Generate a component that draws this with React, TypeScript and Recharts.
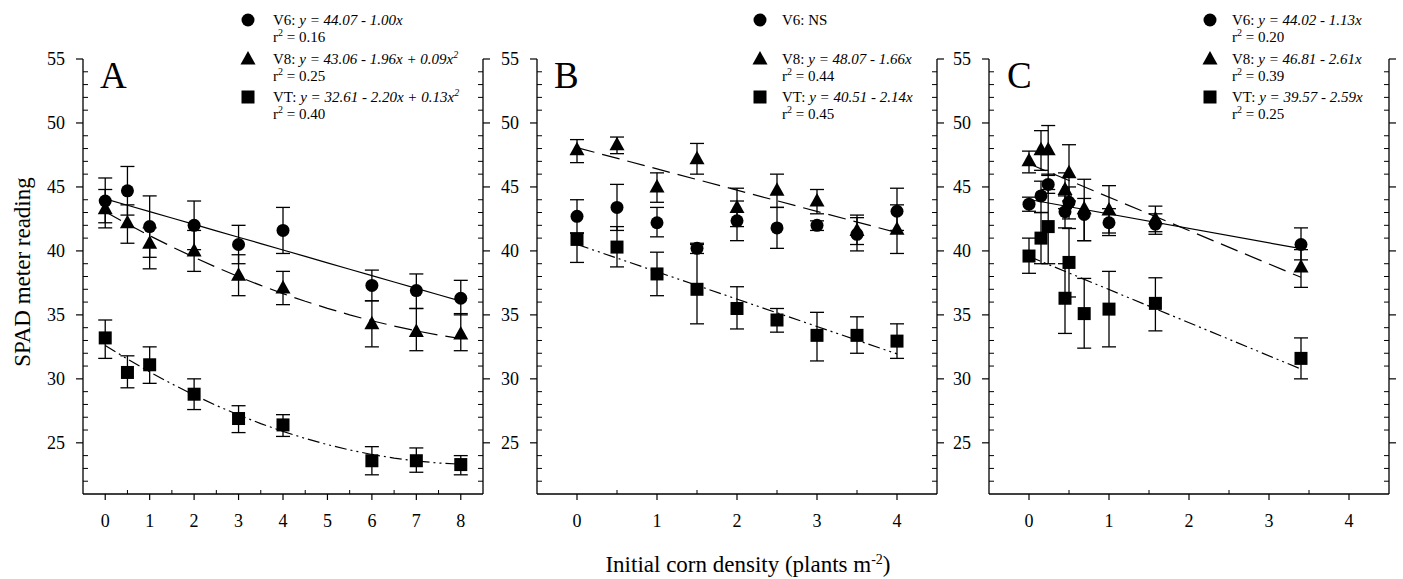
import React from 'react';
import { ComposedChart, Scatter, XAxis, YAxis, ErrorBar } from 'recharts';

const FONT = '"Liberation Serif", "Times New Roman", Times, serif';

// ---------------- Panel A ----------------
const densityA = [0, 0.5, 1, 2, 3, 4, 6, 7, 8];
const v6A = [43.9, 44.7, 41.9, 42.0, 40.5, 41.6, 37.3, 36.9, 36.3];
const v6ALow = [42.2, 42.8, 39.5, 40.1, 39.0, 39.8, 36.1, 35.5, 35.0];
const v6AHigh = [45.7, 46.6, 44.3, 43.9, 42.0, 43.4, 38.5, 38.2, 37.7];
const v8A = [43.3, 42.2, 40.6, 40.0, 38.1, 37.1, 34.3, 33.7, 33.5];
const v8ALow = [41.8, 40.6, 38.6, 38.4, 36.5, 35.8, 32.5, 32.2, 32.2];
const v8AHigh = [44.8, 43.6, 41.8, 41.6, 39.7, 38.4, 36.1, 35.5, 35.1];
const vtA = [33.2, 30.5, 31.1, 28.8, 26.9, 26.4, 23.6, 23.6, 23.3];
const vtALow = [31.6, 29.3, 29.65, 27.6, 25.8, 25.5, 22.5, 22.7, 22.5];
const vtAHigh = [34.6, 31.8, 32.5, 30.0, 27.9, 27.2, 24.7, 24.6, 24.0];
// regression coefficients printed in legend: [a, b, c] for y = a + b x + c x^2
const fitA_V6 = [44.07, -1.0, 0];
const fitA_V8 = [43.06, -1.96, 0.09];
const fitA_VT = [32.61, -2.2, 0.13];
const fitXA = [0, 0.5, 1, 1.5, 2, 2.5, 3, 3.5, 4, 4.5, 5, 5.5, 6, 6.5, 7, 7.5, 8];
const xTicksA = [0, 0.5, 1, 1.5, 2, 2.5, 3, 3.5, 4, 4.5, 5, 5.5, 6, 6.5, 7, 7.5, 8];
const xDomainA = [-0.5, 8.5];

// ---------------- Panel B ----------------
const densityB = [0, 0.5, 1, 1.5, 2, 2.5, 3, 3.5, 4];
const v6B = [42.7, 43.4, 42.2, 40.2, 42.35, 41.8, 42.0, 41.3, 43.1];
const v6BLow = [41.4, 41.6, 41.1, 39.8, 40.8, 40.2, 41.6, 40.0, 41.6];
const v6BHigh = [44.0, 45.2, 43.4, 40.6, 43.9, 43.4, 42.35, 42.6, 44.9];
const v8B = [47.9, 48.3, 45.0, 47.2, 43.4, 44.75, 43.9, 41.6, 41.7];
const v8BLow = [46.9, 47.6, 43.8, 46.0, 41.9, 43.4, 42.9, 40.5, 39.8];
const v8BHigh = [48.7, 48.9, 46.1, 48.4, 44.9, 46.0, 44.8, 42.8, 43.6];
const vtB = [40.9, 40.3, 38.2, 37.0, 35.5, 34.6, 33.4, 33.4, 32.95];
const vtBLow = [39.1, 38.75, 36.5, 34.3, 33.9, 33.65, 31.4, 32.0, 31.6];
const vtBHigh = [41.4, 41.9, 39.9, 40.5, 37.2, 35.5, 35.2, 34.85, 34.3];
const fitB_V8 = [48.07, -1.66, 0];
const fitB_VT = [40.51, -2.14, 0];
const fitXB = [0, 4];
const xTicksB = [0, 0.5, 1, 1.5, 2, 2.5, 3, 3.5, 4];
const xDomainB = [-0.5, 4.5];

// ---------------- Panel C ----------------
const densityC = [0, 0.15, 0.24, 0.45, 0.5, 0.69, 1.0, 1.58, 3.4];
const v6C = [43.65, 44.3, 45.2, 43.06, 43.8, 42.85, 42.2, 42.1, 40.5];
const v6CLow = [43.1, 43.0, 44.5, 41.8, 42.5, 40.8, 41.2, 41.3, 39.3];
const v6CHigh = [44.2, 45.45, 46.0, 44.3, 45.0, 44.1, 43.3, 42.9, 41.8];
const v8C = [47.04, 47.9, 47.9, 44.8, 46.1, 43.3, 43.2, 42.5, 38.75];
const v8CLow = [46.1, 46.3, 45.9, 43.3, 43.9, 40.8, 41.4, 41.5, 37.15];
const v8CHigh = [47.8, 49.4, 49.8, 46.1, 48.3, 45.6, 45.1, 43.5, 40.1];
const vtC = [39.6, 41.0, 41.9, 36.3, 39.1, 35.1, 35.45, 35.9, 31.6];
const vtCLow = [38.25, 39.0, 39.0, 33.55, 36.4, 32.4, 32.5, 33.75, 30.0];
const vtCHigh = [41.0, 43.0, 44.8, 39.0, 41.75, 37.85, 38.4, 37.9, 33.2];
const fitC_V6 = [44.02, -1.13, 0];
const fitC_V8 = [46.81, -2.61, 0];
const fitC_VT = [39.57, -2.59, 0];
const fitXC = [0, 3.4];
const xTicksC = [0, 0.5, 1, 1.5, 2, 2.5, 3, 3.5, 4];
const xDomainC = [-0.5, 4.5];

// ---------------- Shared ----------------
const yDomain = [21, 55];
const yTicks = [22, 23, 24, 25, 26, 27, 28, 29, 30, 31, 32, 33, 34, 35, 36, 37, 38, 39, 40, 41, 42, 43, 44, 45, 46, 47, 48, 49, 50, 51, 52, 53, 54, 55];

const legendA = [
  { sym: 'circle', label: 'V6: ', eq: 'y = 44.07 - 1.00x', r2: '0.16' },
  { sym: 'triangle', label: 'V8: ', eq: 'y = 43.06 - 1.96x + 0.09x^2', r2: '0.25' },
  { sym: 'square', label: 'VT: ', eq: 'y = 32.61 - 2.20x + 0.13x^2', r2: '0.40' },
];
const legendB = [
  { sym: 'circle', label: 'V6: NS', eq: '', r2: '' },
  { sym: 'triangle', label: 'V8: ', eq: 'y = 48.07 - 1.66x', r2: '0.44' },
  { sym: 'square', label: 'VT: ', eq: 'y = 40.51 - 2.14x', r2: '0.45' },
];
const legendC = [
  { sym: 'circle', label: 'V6: ', eq: 'y = 44.02 - 1.13x', r2: '0.20' },
  { sym: 'triangle', label: 'V8: ', eq: 'y = 46.81 - 2.61x', r2: '0.39' },
  { sym: 'square', label: 'VT: ', eq: 'y = 39.57 - 2.59x', r2: '0.25' },
];

const PLOT_TOP = 59;
const PLOT_BOTTOM = 494;
const PLOT_W = 400;
const panelLefts = [83, 537, 989];

function build(xs: number[], ys: number[], lo: number[], hi: number[]) {
  return xs.map((x, i) => ({ x, y: ys[i], err: [ys[i] - lo[i], hi[i] - ys[i]] }));
}
function fitLine(xs: number[], c: number[]) {
  return xs.map((x) => ({ x, y: c[0] + c[1] * x + c[2] * x * x }));
}

const Circle = (p: any) => <circle cx={p.cx} cy={p.cy} r={6.5} fill="#000" />;
const Square = (p: any) => <rect x={p.cx - 6.5} y={p.cy - 6.5} width={13} height={13} fill="#000" />;
const Triangle = (p: any) => (
  <polygon points={`${p.cx},${p.cy - 8} ${p.cx - 7.5},${p.cy + 5.5} ${p.cx + 7.5},${p.cy + 5.5}`} fill="#000" />
);
const NoShape = () => <g />;

const shapes: Record<string, any> = { circle: Circle, square: Square, triangle: Triangle };

const tickTextStyle = { fontFamily: FONT, fontSize: 18 };

const XTick = (p: any) => {
  const v = p.payload.value;
  const major = Math.abs(v - Math.round(v)) < 1e-6;
  return (
    <g>
      {major ? (
        <line x1={p.x} x2={p.x} y1={p.y} y2={p.y + 6} stroke="#000" strokeWidth={1.2} />
      ) : (
        <line x1={p.x} x2={p.x} y1={p.y} y2={p.y - 4} stroke="#000" strokeWidth={1} />
      )}
      {major && (
        <text x={p.x} y={p.y + 33} textAnchor="middle" fontSize={18} fontFamily={FONT} style={tickTextStyle} fill="#000">
          {v}
        </text>
      )}
    </g>
  );
};

const YTickLeft = (p: any) => {
  const v = p.payload.value;
  const major = v % 5 === 0;
  return (
    <g>
      {major ? (
        <line x1={p.x - 7} x2={p.x} y1={p.y} y2={p.y} stroke="#000" strokeWidth={1.2} />
      ) : (
        <line x1={p.x} x2={p.x + 5} y1={p.y} y2={p.y} stroke="#000" strokeWidth={1} />
      )}
      {major && (
        <text x={p.x - 18} y={p.y + 6} textAnchor="end" fontSize={18} fontFamily={FONT} style={tickTextStyle} fill="#000">
          {v}
        </text>
      )}
    </g>
  );
};

const YTickRight = (p: any) => {
  const v = p.payload.value;
  const major = v % 5 === 0;
  return major ? (
    <line x1={p.x} x2={p.x + 7} y1={p.y} y2={p.y} stroke="#000" strokeWidth={1.2} />
  ) : (
    <line x1={p.x - 5} x2={p.x} y1={p.y} y2={p.y} stroke="#000" strokeWidth={1} />
  );
};

const DASH_V6 = undefined;
const DASH_V8 = '18 8';
const DASH_VT = '12 4 2 4 2 4';

type SeriesDef = { shape: string; data: any[] };
type FitDef = { dash: string | undefined; data: any[] };

function Panel({ plotLeft, xDomain, xTicks, series, fits }: { plotLeft: number; xDomain: number[]; xTicks: number[]; series: SeriesDef[]; fits: FitDef[] }) {
  const leftW = 60;
  const rightW = 20;
  const axisStyle = { stroke: '#000', strokeWidth: 1.3 };
  return (
    <div style={{ position: 'absolute', left: plotLeft - leftW, top: 0 }}>
      <ComposedChart width={leftW + PLOT_W + rightW} height={579} margin={{ top: PLOT_TOP, right: 0, bottom: 0, left: 0 }}>
        <XAxis
          type="number"
          dataKey="x"
          domain={xDomain}
          ticks={xTicks}
          interval={0}
          tickSize={0}
          tickMargin={0}
          height={579 - PLOT_BOTTOM}
          axisLine={axisStyle}
          tickLine={false}
          tick={XTick}
          allowDataOverflow
        />
        <YAxis
          yAxisId="l"
          type="number"
          dataKey="y"
          domain={yDomain}
          ticks={yTicks}
          interval={0}
          width={leftW}
          tickSize={0}
          tickMargin={0}
          axisLine={axisStyle}
          tickLine={false}
          tick={YTickLeft}
          allowDataOverflow
        />
        <YAxis
          yAxisId="r"
          orientation="right"
          type="number"
          dataKey="y"
          domain={yDomain}
          ticks={yTicks}
          interval={0}
          width={rightW}
          tickSize={0}
          tickMargin={0}
          axisLine={axisStyle}
          tickLine={false}
          tick={YTickRight}
          allowDataOverflow
        />
        {fits.map((f, i) => (
          <Scatter
            key={'f' + i}
            yAxisId="l"
            data={f.data}
            line={{ stroke: '#000', strokeWidth: 1.2, strokeDasharray: f.dash }}
            lineType="joint"
            shape={NoShape}
            isAnimationActive={false}
          />
        ))}
        {fits.length > 0 && (
          <Scatter yAxisId="r" data={fits[0].data} shape={NoShape} isAnimationActive={false} />
        )}
        {series.map((s, i) => (
          <Scatter key={'s' + i} yAxisId="l" data={s.data} shape={shapes[s.shape]} isAnimationActive={false}>
            <ErrorBar dataKey="err" direction="y" width={7} stroke="#000" strokeWidth={1.3} />
          </Scatter>
        ))}
      </ComposedChart>
    </div>
  );
}

function LegendSymbol({ sym, cx, cy }: { sym: string; cx: number; cy: number }) {
  const S = shapes[sym];
  return <S cx={cx} cy={cy} />;
}

function EqText({ eq }: { eq: string }) {
  const parts = eq.split('^2');
  const out: any[] = [];
  parts.forEach((part, i) => {
    out.push(<tspan key={'p' + i}>{part}</tspan>);
    if (i < parts.length - 1) {
      out.push(
        <tspan key={'s' + i} dy={-6} fontSize={10}>
          2
        </tspan>
      );
      out.push(<tspan key={'r' + i} dy={6}>{''}</tspan>);
    }
  });
  return <tspan fontStyle="italic">{out}</tspan>;
}

function LegendBlock({ items, symX, textX }: { items: any[]; symX: number; textX: number }) {
  const rowY = [20, 59, 97];
  return (
    <g>
      {items.map((it, i) => (
        <g key={i}>
          <LegendSymbol sym={it.sym} cx={symX} cy={rowY[i]} />
          <text x={textX} y={rowY[i] + 5} fontSize={15} fontFamily={FONT} fill="#000">
            <tspan>{it.label}</tspan>
            {it.eq && <EqText eq={it.eq} />}
          </text>
          {it.r2 && (
            <text x={textX} y={rowY[i] + 22} fontSize={15} fontFamily={FONT} fill="#000">
              r
              <tspan dy={-6} fontSize={10}>
                2
              </tspan>
              <tspan dy={6}>{' = ' + it.r2}</tspan>
            </text>
          )}
        </g>
      ))}
    </g>
  );
}

export default function App() {
  const seriesA: SeriesDef[] = [
    { shape: 'circle', data: build(densityA, v6A, v6ALow, v6AHigh) },
    { shape: 'triangle', data: build(densityA, v8A, v8ALow, v8AHigh) },
    { shape: 'square', data: build(densityA, vtA, vtALow, vtAHigh) },
  ];
  const fitsA: FitDef[] = [
    { dash: DASH_V6, data: fitLine(fitXA, fitA_V6) },
    { dash: DASH_V8, data: fitLine(fitXA, fitA_V8) },
    { dash: DASH_VT, data: fitLine(fitXA, fitA_VT) },
  ];
  const seriesB: SeriesDef[] = [
    { shape: 'circle', data: build(densityB, v6B, v6BLow, v6BHigh) },
    { shape: 'triangle', data: build(densityB, v8B, v8BLow, v8BHigh) },
    { shape: 'square', data: build(densityB, vtB, vtBLow, vtBHigh) },
  ];
  const fitsB: FitDef[] = [
    { dash: DASH_V8, data: fitLine(fitXB, fitB_V8) },
    { dash: DASH_VT, data: fitLine(fitXB, fitB_VT) },
  ];
  const seriesC: SeriesDef[] = [
    { shape: 'circle', data: build(densityC, v6C, v6CLow, v6CHigh) },
    { shape: 'triangle', data: build(densityC, v8C, v8CLow, v8CHigh) },
    { shape: 'square', data: build(densityC, vtC, vtCLow, vtCHigh) },
  ];
  const fitsC: FitDef[] = [
    { dash: DASH_V6, data: fitLine(fitXC, fitC_V6) },
    { dash: DASH_V8, data: fitLine(fitXC, fitC_V8) },
    { dash: DASH_VT, data: fitLine(fitXC, fitC_VT) },
  ];

  return (
    <div style={{ position: 'absolute', left: 0, top: 0, width: 1403, height: 579, background: '#fff', overflow: 'hidden', fontFamily: FONT }}>
      <Panel plotLeft={panelLefts[0]} xDomain={xDomainA} xTicks={xTicksA} series={seriesA} fits={fitsA} />
      <Panel plotLeft={panelLefts[1]} xDomain={xDomainB} xTicks={xTicksB} series={seriesB} fits={fitsB} />
      <Panel plotLeft={panelLefts[2]} xDomain={xDomainC} xTicks={xTicksC} series={seriesC} fits={fitsC} />
      <svg width={1403} height={579} style={{ position: 'absolute', left: 0, top: 0, pointerEvents: 'none' }}>
        <text x={panelLefts[0] + 17} y={88} fontSize={37} fontFamily={FONT} fill="#000">A</text>
        <text x={panelLefts[1] + 17} y={88} fontSize={37} fontFamily={FONT} fill="#000">B</text>
        <text x={panelLefts[2] + 18} y={88} fontSize={37} fontFamily={FONT} fill="#000">C</text>
        <LegendBlock items={legendA} symX={248} textX={273} />
        <LegendBlock items={legendB} symX={760} textX={782} />
        <LegendBlock items={legendC} symX={1210} textX={1232} />
        <text transform="translate(30,272) rotate(-90)" textAnchor="middle" fontSize={23} fontFamily={FONT} fill="#000">
          SPAD meter reading
        </text>
        <text x={748} y={572} textAnchor="middle" fontSize={23} fontFamily={FONT} fill="#000">
          Initial corn density (plants m
          <tspan dy={-8} fontSize={14}>-2</tspan>
          <tspan dy={8}>)</tspan>
        </text>
      </svg>
    </div>
  );
}
